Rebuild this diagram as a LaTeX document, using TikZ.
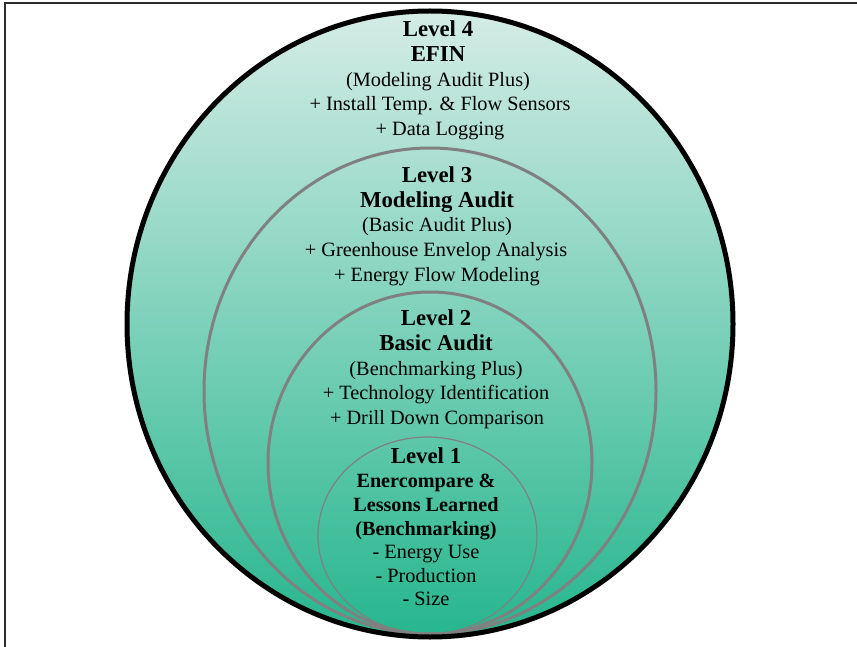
\documentclass[tikz,border=0pt]{standalone}
\usepackage{fontspec}
\setmainfont{Liberation Serif}
\definecolor{mtop}{RGB}{212,236,230}
\definecolor{mbot}{RGB}{38,182,141}
\definecolor{ringgray}{RGB}{128,128,128}
\definecolor{framecol}{RGB}{45,45,45}
\tikzset{
  ttl/.style={font=\fontsize{22.8}{26}\selectfont\bfseries, anchor=base, inner sep=0pt},
  bsub/.style={font=\fontsize{20.2}{24}\selectfont\bfseries, anchor=base, inner sep=0pt},
  txt/.style={font=\fontsize{20.3}{24}\selectfont, anchor=base, inner sep=0pt},
  ring/.style={draw=ringgray, line width=3pt},
  thinring/.style={draw=ringgray, line width=1.2pt}
}
\begin{document}
\begin{tikzpicture}[x=1pt,y=-1pt]
\useasboundingbox (0,0) rectangle (857,647);
% outer shaded ellipse
\shade[top color=mtop, bottom color=mbot] (430,324) ellipse [x radius=303pt, y radius=313pt];
% inner rings
\draw[ring] (430,391) ellipse [x radius=226pt, y radius=243pt];
\draw[ring] (430,463) ellipse [x radius=162pt, y radius=171pt];
\draw[thinring] (427.5,535.5) ellipse [x radius=109.5pt, y radius=98.5pt];
% outer border
\draw[line width=5pt, black] (430,324) ellipse [x radius=303pt, y radius=313pt];
% Level 4
\node[ttl] (l4a) at (438,37) {Level 4};
\node[ttl] (l4b) at (438,62) {EFIN};
\node[txt] (l4c) at (438,86.5) {(Modeling Audit Plus)};
\node[txt] (l4d) at (440,111) {+ Install Temp. \& Flow Sensors};
\node[txt] (l4e) at (440,135.5) {+ Data Logging};
% Level 3
\node[ttl] (l3a) at (437,183) {Level 3};
\node[ttl] (l3b) at (437,207.5) {Modeling Audit};
\node[txt] (l3c) at (437,232) {(Basic Audit Plus)};
\node[txt] (l3d) at (436,256.5) {+ Greenhouse Envelop Analysis};
\node[txt] (l3e) at (437,281) {+ Energy Flow Modeling};
% Level 2
\node[ttl] (l2a) at (436,325) {Level 2};
\node[ttl] (l2b) at (436,350) {Basic Audit};
\node[txt] (l2c) at (436,375) {(Benchmarking Plus)};
\node[txt] (l2d) at (436,399.5) {+ Technology Identification};
\node[txt] (l2e) at (437,424) {+ Drill Down Comparison};
% Level 1
\node[ttl] (l1a) at (426,463) {Level 1};
\node[bsub] (l1b) at (426,487) {Enercompare \&};
\node[bsub] (l1c) at (426,511) {Lessons Learned};
\node[bsub] (l1d) at (426,535) {(Benchmarking)};
\node[txt] (l1e) at (426,558.5) {- Energy Use};
\node[txt] (l1f) at (426,582) {- Production};
\node[txt] (l1g) at (426,605.5) {- Size};
% frame
\coordinate (fbl) at (5,648);
\coordinate (ftl) at (5,3);
\coordinate (ftr) at (858,3);
\draw[line width=2pt, framecol] (fbl) -- (ftl) -- (ftr);
\end{tikzpicture}
\end{document}
